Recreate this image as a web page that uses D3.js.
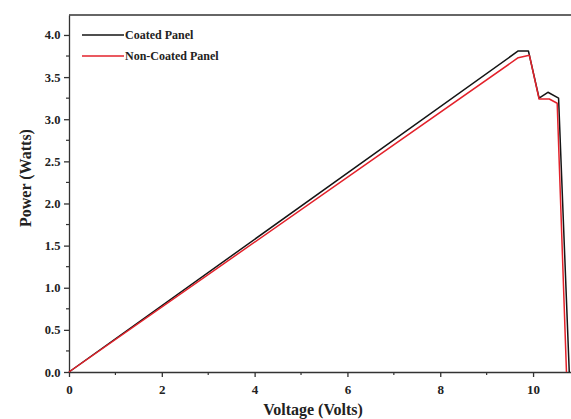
<!DOCTYPE html>
<html>
<head>
<meta charset="utf-8">
<script src="https://cdn.jsdelivr.net/npm/d3@7"></script>
<style>
  body { margin: 0; background: #fff; }
  svg text { font-family: "Liberation Serif", "DejaVu Serif", serif; font-weight: bold; fill: #222; }
  .axis path, .axis line { stroke: #333; stroke-width: 1.3; }
</style>
</head>
<body>
<svg id="chart" width="571" height="419"></svg>
<script>
// Voltage (V) and power (W)
const coatedVolts = [0, 9.68, 9.9, 10.13, 10.32, 10.55, 10.78];
const coatedPower = [0, 3.81, 3.81, 3.25, 3.32, 3.25, 0];
const nonCoatedVolts = [0, 9.68, 9.92, 10.13, 10.35, 10.52, 10.72];
const nonCoatedPower = [0, 3.73, 3.76, 3.24, 3.24, 3.19, 0];

const xTicks = [0, 2, 4, 6, 8, 10];
const yTicks = [0, 0.5, 1, 1.5, 2, 2.5, 3, 3.5, 4];

const series = [
  { name: "Coated Panel", color: "#151515", x: coatedVolts, y: coatedPower },
  { name: "Non-Coated Panel", color: "#e3222b", x: nonCoatedVolts, y: nonCoatedPower },
];

const svg = d3.select("#chart");
const pad = { left: 69, top: 15 };
const innerW = 510, innerH = 357;

const x = d3.scaleLinear().domain([0, 10.99]).range([0, innerW]);
const y = d3.scaleLinear().domain([0, 4.237]).range([innerH, 0]);

const g = svg.append("g").attr("transform", `translate(${pad.left},${pad.top})`);

// frame (top edge, right edge falls outside the picture)
g.append("line").attr("x1", 0).attr("x2", innerW).attr("y1", 0).attr("y2", 0)
  .attr("stroke", "#333").attr("stroke-width", 1.3);

// minor ticks
const minorX = d3.range(1, 11, 2);
const minorY = d3.range(0.25, 4.25, 0.5);
g.append("g").selectAll("line").data(minorX).join("line")
  .attr("x1", x).attr("x2", x).attr("y1", innerH).attr("y2", innerH + 3)
  .attr("stroke", "#333").attr("stroke-width", 1.2);
g.append("g").selectAll("line").data(minorY).join("line")
  .attr("y1", y).attr("y2", y).attr("x1", 0).attr("x2", -3)
  .attr("stroke", "#333").attr("stroke-width", 1.2);

const gx = g.append("g").attr("class", "axis")
  .attr("transform", `translate(0,${innerH})`)
  .call(d3.axisBottom(x).tickValues(xTicks).tickSize(5).tickSizeOuter(0).tickFormat(d3.format("d")));
gx.selectAll("text").attr("font-size", 13).attr("dy", "1.05em");

const gy = g.append("g").attr("class", "axis")
  .call(d3.axisLeft(y).tickValues(yTicks).tickSize(5).tickSizeOuter(0).tickFormat(d3.format(".1f")));
gy.selectAll("text").attr("font-size", 12.5).attr("dx", "-0.05em");

// lines
const line = d3.line().x((d) => x(d[0])).y((d) => y(d[1]));
g.append("g").selectAll("path").data(series).join("path")
  .attr("fill", "none")
  .attr("stroke", (d) => d.color)
  .attr("stroke-width", 1.5)
  .attr("stroke-linejoin", "round")
  .attr("d", (d) => line(d3.zip(d.x, d.y)));

// legend
const legend = g.append("g").attr("transform", "translate(13,20)");
legend.selectAll("g").data(series).join("g")
  .attr("transform", (d, i) => `translate(0,${i * 21})`)
  .each(function (d) {
    const s = d3.select(this);
    s.append("line").attr("x1", 0).attr("x2", 42).attr("stroke", d.color).attr("stroke-width", 1.5);
    s.append("text").attr("x", 43).attr("dy", "0.35em").attr("font-size", 12).text(d.name);
  });

// axis titles
svg.append("text").attr("x", 313).attr("y", 415)
  .attr("text-anchor", "middle").attr("font-size", 16).text("Voltage (Volts)");
svg.append("text").attr("transform", `translate(31,178) rotate(-90)`)
  .attr("text-anchor", "middle").attr("font-size", 16).text("Power (Watts)");
</script>
</body>
</html>
